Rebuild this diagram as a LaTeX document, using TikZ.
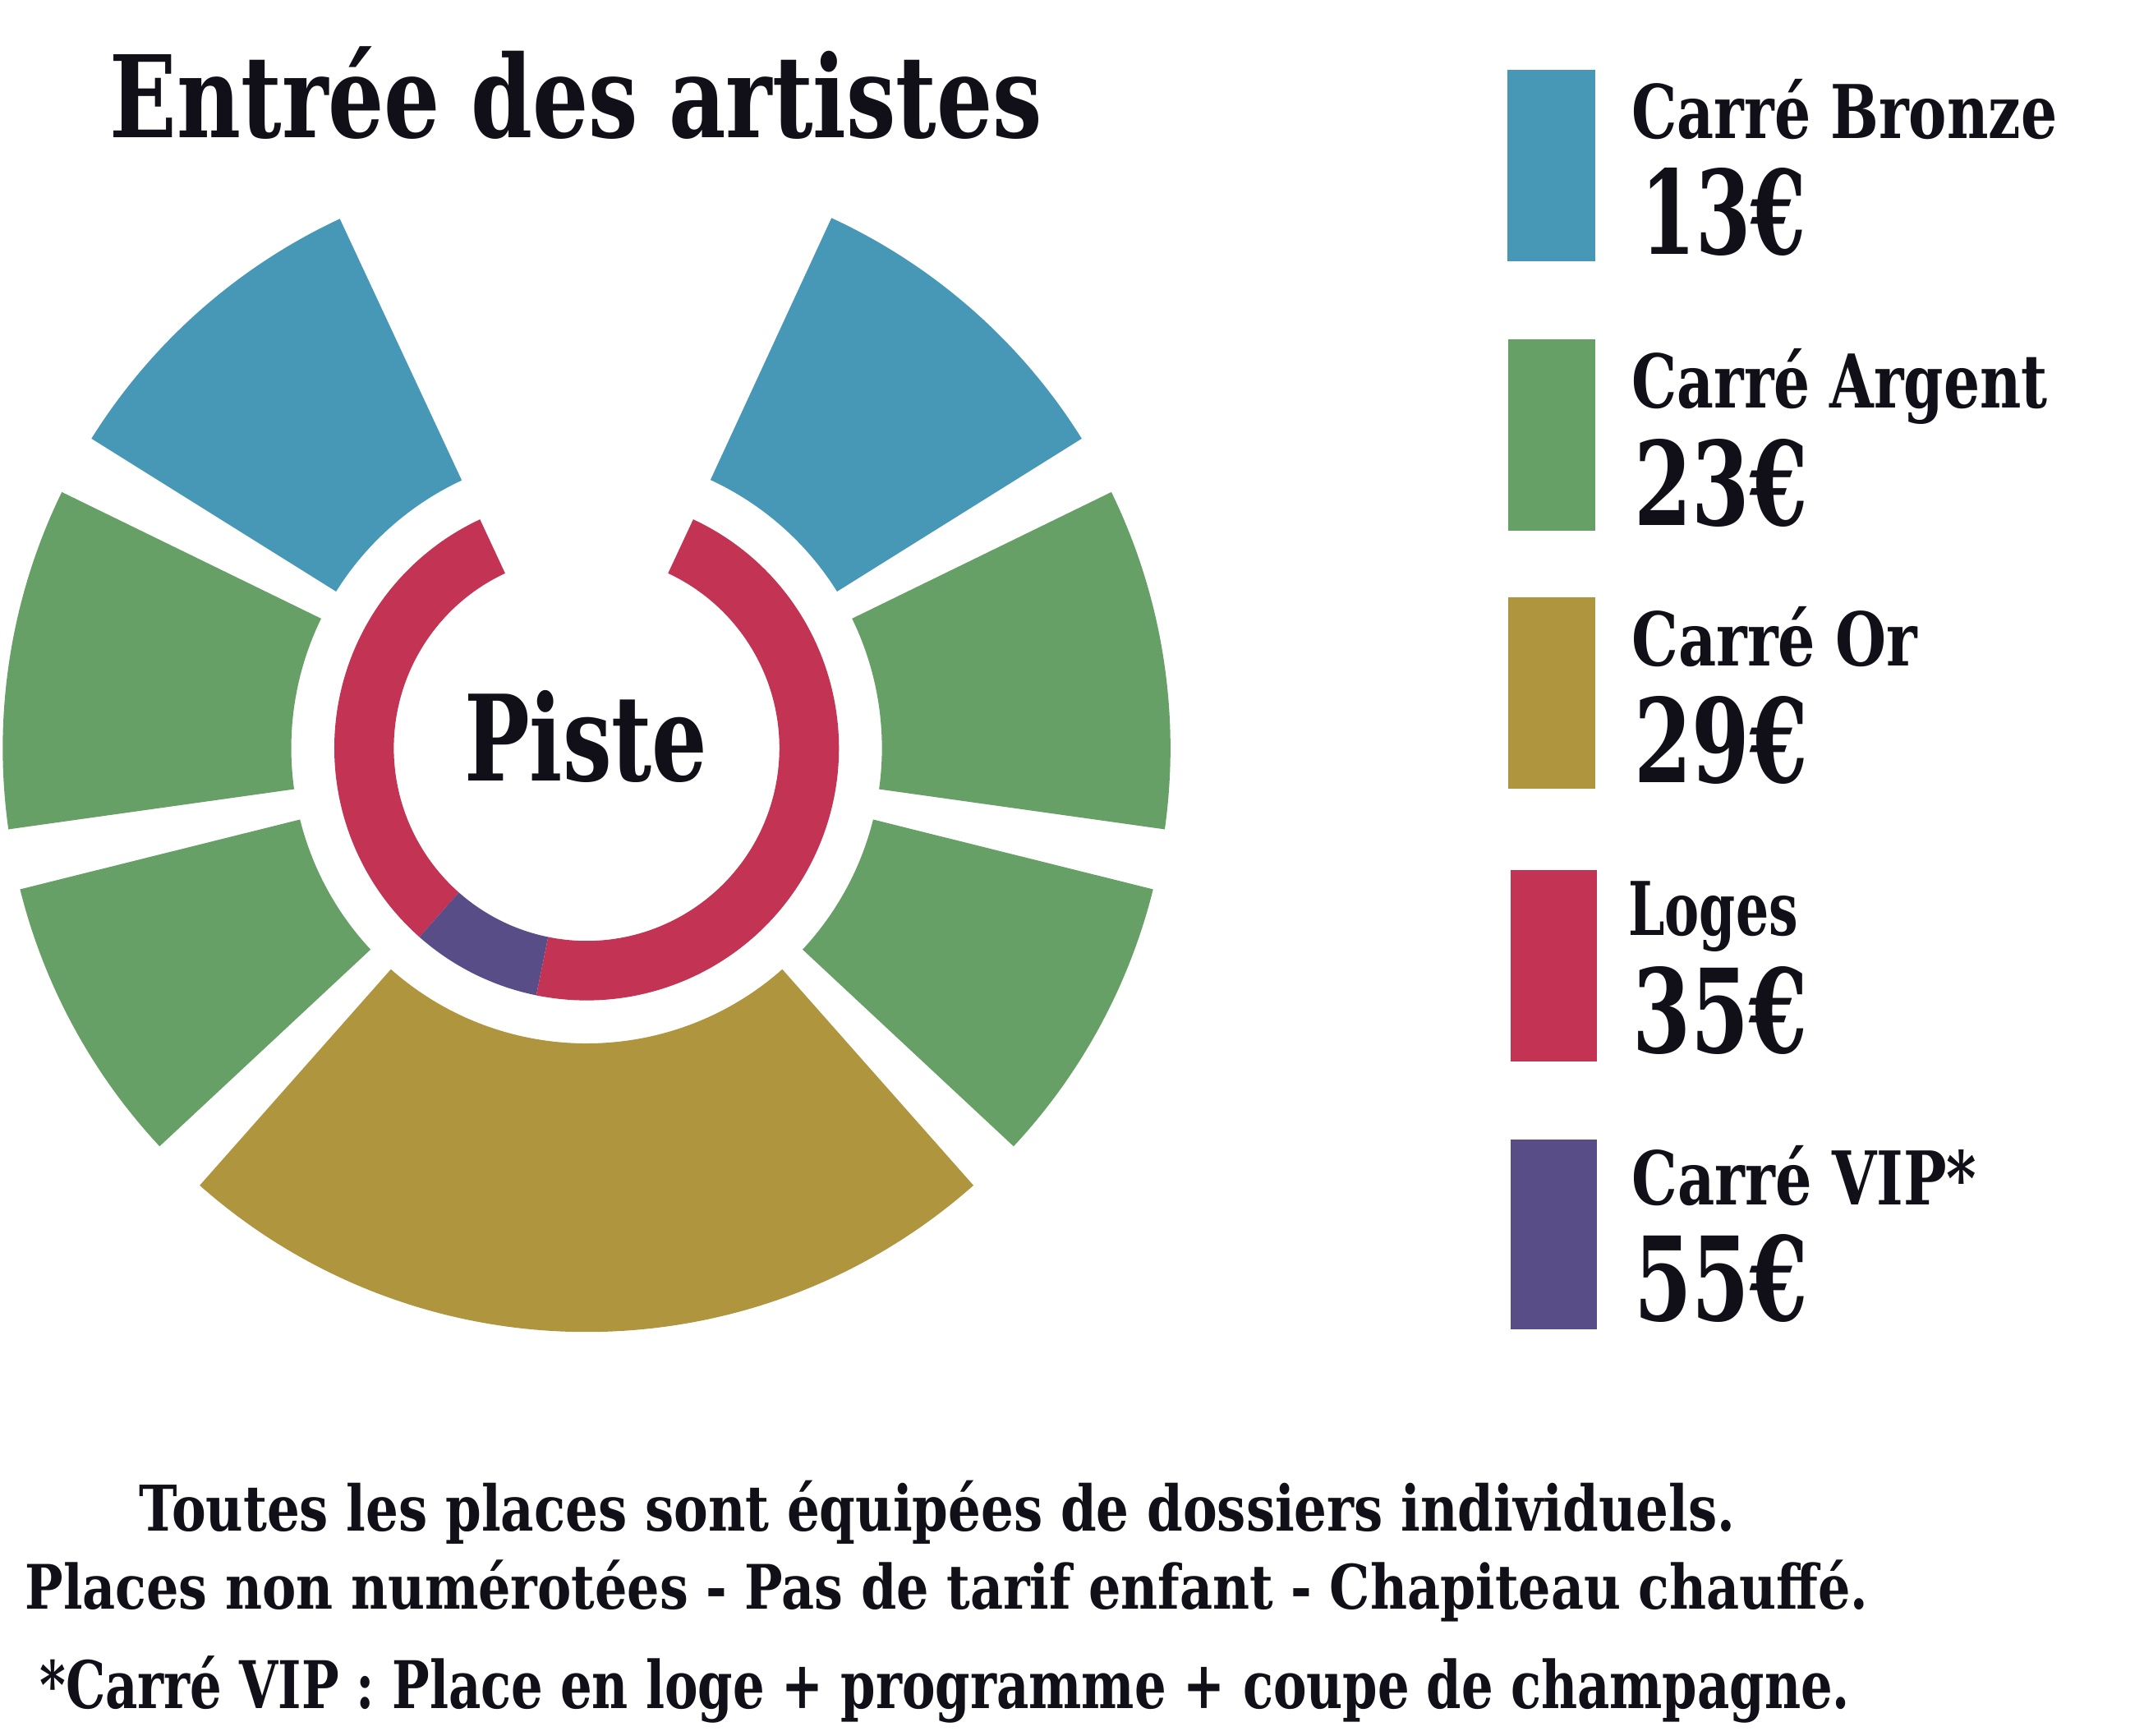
\documentclass[tikz,border=0pt]{standalone}
\usepackage{fontspec}
\setmainfont{DejaVu Serif}
\usepackage{graphicx}
\definecolor{cblue}{HTML}{4797B6}
\definecolor{cgreen}{HTML}{67A067}
\definecolor{cgold}{HTML}{B0953F}
\definecolor{cred}{HTML}{C23354}
\definecolor{cpurple}{HTML}{594D87}
\definecolor{ink}{HTML}{111018}
\newsavebox\mybox
\newlength\mylen
\newcommand\fitto[3]{\pgfmathsetmacro\mysz{#2*0.3903}\sbox\mybox{\fontsize{\mysz pt}{\mysz pt}\selectfont\bfseries #3}\setlength\mylen{\wd\mybox}\pgfmathsetmacro\myratio{#1*0.28453/\mylen}\scalebox{\myratio}[1]{\usebox\mybox}}
\newcommand\sector[5]{\fill[#1] (#2:#4) arc[start angle=#2, end angle=#3, radius=#4] -- (#3:#5) arc[start angle=#3, end angle=#2, radius=#5] -- cycle;}
\tikzset{txt/.style={inner sep=0pt, outer sep=0pt, text=ink, anchor=base west}}
\begin{document}
\begin{tikzpicture}[x=0.1mm, y=-0.1mm]
\useasboundingbox[fill=white] (0,0) rectangle (1568,1269);
% seating plan
\begin{scope}[shift={(429,547)}, yscale=-1]
\sector{cblue}{115}{148}{216}{427}
\sector{cgreen}{154}{188}{216}{427}
\sector{cgreen}{194}{223}{216}{427}
\sector{cgold}{228.5}{311.5}{216}{427}
\sector{cgreen}{317}{346}{216}{427}
\sector{cgreen}{352}{386}{216}{427}
\sector{cblue}{32}{65.2}{216}{427}
\sector{cred}{115}{228.5}{141}{184.5}
\sector{cpurple}{228.5}{258.5}{141}{184.5}
\sector{cred}{258.5}{425}{141}{184.5}
\end{scope}
% texts
\node[txt] (title) at (80.5,100.7) {\fitto{682}{60.7}{Entrée des artistes}};
\node[txt] (piste) at (339.5,571) {\fitto{178}{63.5}{Piste}};
% legend
\fill[cblue] (1102.5,51) rectangle (1166.7,191);
\fill[cgreen] (1103,248) rectangle (1166.5,388);
\fill[cgold] (1103,437) rectangle (1166.5,577);
\fill[cred] (1105,636) rectangle (1168,776);
\fill[cpurple] (1105,833) rectangle (1168,972);
\node[txt] (l1) at (1193.5,101) {\fitto{311}{39.5}{Carré Bronze}};
\node[txt] (p1) at (1200,186) {\fitto{121}{62}{13€}};
\node[txt] (l2) at (1193.5,298) {\fitto{304}{39.5}{Carré Argent}};
\node[txt] (p2) at (1195,384) {\fitto{127}{62}{23€}};
\node[txt] (l3) at (1193.5,487) {\fitto{209}{39.5}{Carré Or}};
\node[txt] (p3) at (1195,572) {\fitto{127}{62}{29€}};
\node[txt] (l4) at (1191,684) {\fitto{124}{39.5}{Loges}};
\node[txt] (p4) at (1194,770) {\fitto{128}{62}{35€}};
\node[txt] (l5) at (1193.5,881) {\fitto{252}{39.5}{Carré VIP*}};
\node[txt] (p5) at (1195,966) {\fitto{127}{62}{55€}};
% footnotes
\node[txt] (f1) at (102,1119.5) {\fitto{1167}{33.6}{Toutes les places sont équipées de dossiers individuels.}};
\node[txt] (f2) at (18.4,1176.5) {\fitto{1348}{32.7}{Places non numérotées - Pas de tarif enfant - Chapiteau chauffé.}};
\node[txt] (f3) at (29,1249) {\fitto{1324}{35}{*Carré VIP : Place en loge + programme + coupe de champagne.}};
\end{tikzpicture}
\end{document}
